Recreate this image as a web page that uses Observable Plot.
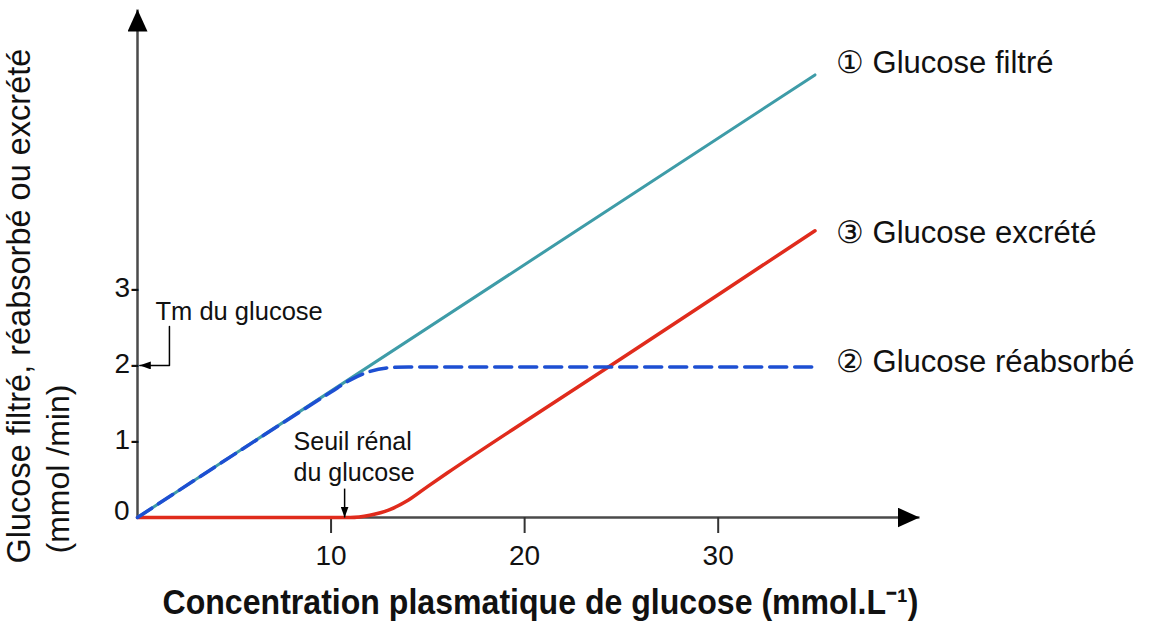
<!DOCTYPE html>
<html><head><meta charset="utf-8">
<script src="https://cdn.jsdelivr.net/npm/d3@7"></script>
<script src="https://cdn.jsdelivr.net/npm/@observablehq/plot@0.6"></script>
<style>body{margin:0;background:#fff}</style>
</head><body><div id="chart"></div>
<script>
// ---- data ----
const filtX = [0, 35];
const filtY = [0, 5.82];
const reabsX = [0, 5, 10, 11, 12, 13, 14, 20, 25, 30, 35];
const reabsY = [0, 0.83, 1.65, 1.81, 1.92, 1.97, 1.98, 1.98, 1.98, 1.98, 1.98];
const excrX = [0, 5, 11, 12, 13, 14, 15, 16, 20, 25, 30, 35];
const excrY = [0, 0, 0, 0.03, 0.10, 0.23, 0.41, 0.585, 1.26, 2.09, 2.93, 3.77];
const xTicks = [10, 20, 30];
const yTicks = [1, 2, 3];
const yTickLabels = ["1-", "2-", "3-"];
const seriesLabels = ["\u2460 Glucose filtré", "\u2461 Glucose réabsorbé", "\u2462 Glucose excrété"];
const tm = 2;          // Tm du glucose
const seuil = 10.7;    // seuil rénal du glucose
const tmArrowX = [1.65, 1.65, 0.12];
const tmArrowY = [2.51, 2, 2];
const xMax = 40.4, yMax = 6.68;
const yTitle1 = "Glucose filtré, réabsorbé ou excrété";
const yTitle2 = "(mmol /min)";
const xTitle = "Concentration plasmatique de glucose (mmol.L\u207B\u00B9)";

const zip = (xs, ys) => xs.map((x, i) => ({x, y: ys[i]}));
const filt = zip(filtX, filtY), reabs = zip(reabsX, reabsY), excr = zip(excrX, excrY);
const tmArrow = zip(tmArrowX, tmArrowY);
const font = "'Liberation Sans', Arial, Helvetica, sans-serif";

const chart = Plot.plot({
  width: 1153, height: 639,
  marginLeft: 137, marginRight: 234, marginTop: 9, marginBottom: 122,
  x: {domain: [0, xMax], axis: null},
  y: {domain: [0, yMax], axis: null},
  style: {fontFamily: font, background: "#fff", color: "#111", overflow: "visible"},
  marks: [
    Plot.link([{x1: 0, y1: 0, x2: xMax, y2: 0}], {x1: "x1", y1: "y1", x2: "x2", y2: "y2", stroke: "#4a4a4a", strokeWidth: 2.5, ariaDescription: "axis-arrow"}),
    Plot.link([{x1: 0, y1: 0, x2: 0, y2: yMax}], {x1: "x1", y1: "y1", x2: "x2", y2: "y2", stroke: "#4a4a4a", strokeWidth: 2.5, ariaDescription: "axis-arrow"}),
    Plot.axisX(xTicks, {tickSize: 16, tickPadding: 12, fontSize: 28, stroke: "#333", strokeWidth: 2, label: null}),
    Plot.text(yTicks, {x: 0, y: d => d, text: (d, i) => yTickLabels[i], textAnchor: "end", dx: 2, dy: -1, fontSize: 28}),
    Plot.text([0], {x: 0, y: d => d, text: d => String(d), textAnchor: "end", dx: -8, dy: -6, fontSize: 28}),
    // series
    Plot.line(filt, {x: "x", y: "y", stroke: "#3e9ca8", strokeWidth: 3}),
    Plot.line(excr, {x: "x", y: "y", stroke: "#e02b1c", strokeWidth: 3.5, curve: "monotone-x"}),
    Plot.line(reabs, {x: "x", y: "y", stroke: "#1d4fd2", strokeWidth: 3.5, strokeDasharray: "17,8", curve: "monotone-x"}),
    // series labels
    Plot.text([filt.at(-1)], {x: "x", y: "y", text: () => seriesLabels[0], textAnchor: "start", dx: 21, dy: -12, fontSize: 31}),
    Plot.text([reabs.at(-1)], {x: "x", y: "y", text: () => seriesLabels[1], textAnchor: "start", dx: 21, dy: -4.5, fontSize: 31}),
    Plot.text([excr.at(-1)], {x: "x", y: "y", text: () => seriesLabels[2], textAnchor: "start", dx: 21, dy: 2.5, fontSize: 31}),
    // annotations
    Plot.text([{x: 0, y: tm}], {x: "x", y: "y", text: () => "Tm du glucose", textAnchor: "start", dx: 18, dy: -54, fontSize: 25.5}),
    Plot.line(tmArrow, {x: "x", y: "y", stroke: "#000", strokeWidth: 1.5, ariaDescription: "tm-arrow"}),
    Plot.text([{x: seuil, y: 0}], {x: "x", y: "y", text: () => "Seuil rénal\ndu glucose", textAnchor: "start", lineAnchor: "top", lineHeight: 1.25, dx: -51, dy: -90, fontSize: 25}),
    Plot.link([{x1: seuil, y1: 0.38, x2: seuil, y2: 0}], {x1: "x1", y1: "y1", x2: "x2", y2: "y2", stroke: "#000", strokeWidth: 1.5, ariaDescription: "seuil-arrow"}),
    // titles
    Plot.text([yTitle1], {frameAnchor: "bottom-left", text: d => d, rotate: -90, textAnchor: "start", dx: -108, dy: 46, fontSize: 32.5}),
    Plot.text([yTitle2], {frameAnchor: "bottom-left", text: d => d, rotate: -90, textAnchor: "start", dx: -69, dy: 36, fontSize: 32}),
    Plot.text([xTitle], {frameAnchor: "bottom", text: d => d, dx: 12, dy: 96, fontSize: 35, fontWeight: "bold"})
  ]
});

const svg = d3.select(chart);
const defs = svg.insert("defs", ":first-child");
function addMarker(id, len, wid) {
  defs.append("marker").attr("id", id)
    .attr("viewBox", `0 0 ${len} ${wid}`).attr("refX", len).attr("refY", wid / 2)
    .attr("markerWidth", len).attr("markerHeight", wid)
    .attr("markerUnits", "userSpaceOnUse").attr("orient", "auto")
    .append("path").attr("d", `M0,0L${len},${wid / 2}L0,${wid}Z`).attr("fill", "#000");
}
addMarker("tri-axis", 22, 20);
addMarker("tri-small", 11, 8);
svg.selectAll('g[aria-description="axis-arrow"] path').attr("marker-end", "url(#tri-axis)");
svg.selectAll('g[aria-description="seuil-arrow"] path').attr("marker-end", "url(#tri-small)");
svg.selectAll('g[aria-description="tm-arrow"] path').attr("marker-end", "url(#tri-small)");
svg.selectAll("text").filter(function () { return this.textContent.startsWith("Concentration"); })
  .attr("textLength", 756).attr("lengthAdjust", "spacingAndGlyphs");
document.getElementById("chart").appendChild(chart);
</script>
</body></html>
